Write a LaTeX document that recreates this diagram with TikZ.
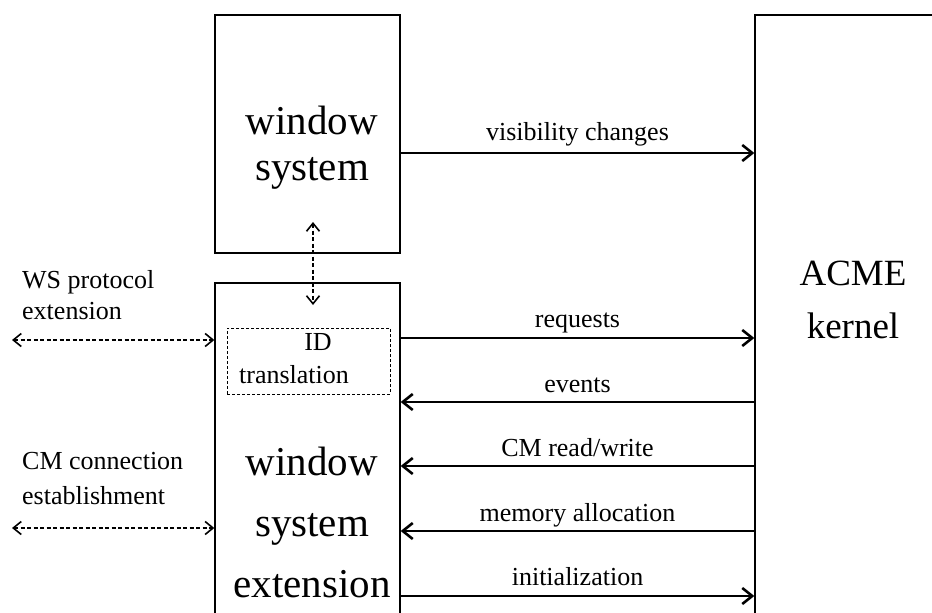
\documentclass[tikz,border=0pt]{standalone}
\usepackage{fontspec}
\setmainfont{Liberation Serif}
\usetikzlibrary{arrows.meta}
\usetikzlibrary{calc}

\tikzset{
 box/.style={draw, line width=1.3pt, inner sep=0},
 flow/.style={line width=2pt, >={Straight Barb[length=10pt,width=16pt,line width=2.6pt]}},
 ext/.style={line width=1.1pt, dash pattern=on 4pt off 2.5pt, >={Straight Barb[length=8pt,width=13pt,line width=1.6pt]}},
 lab/.style={font=\fontsize{26}{33}\selectfont, inner sep=0},
 big/.style={font=\fontsize{41}{46}\selectfont, align=center, inner sep=0},
}

\begin{document}
\begin{tikzpicture}[x=1pt, y=-1pt]
\clip (0,0) rectangle (932,613);
\useasboundingbox (0,0) rectangle (932,613);

% the three blocks
\node[box, minimum width=185pt, minimum height=238pt] (ws) at (307.5,134) {};
\node[box, minimum width=185pt, minimum height=357pt] (wse) at (307.5,461.5) {};
\node[box, minimum width=220pt, minimum height=630pt] (acme) at (865,330) {};
\node[box, dashed, line width=1pt, dash pattern=on 3pt off 2pt, minimum width=163pt, minimum height=66pt] (idbox) at (308.5,361) {};

\node[big] (wstxt) at (312,148) {window\\system};
\node[big, font=\fontsize{41}{61}\selectfont] (wsetxt) at (312,522) {window\\system\\extension};
\node[big, font=\fontsize{37}{53}\selectfont] (acmetxt) at (853,300) {ACME\\kernel};
\node[lab, anchor=base] (idtxt) at (318,350) {ID};
\node[lab, anchor=base] (trtxt) at (294,383) {translation};

% side labels
\node[lab, anchor=west, align=left, font=\fontsize{26}{31}\selectfont] (wsp) at (22,295) {WS protocol\\extension};
\node[lab, anchor=west, align=left, font=\fontsize{26}{35}\selectfont] (cmc) at (22,479) {CM connection\\establishment};

% dashed links
\coordinate (wsup) at (313,222);
\coordinate (wsedn) at (313,305);
\coordinate (wsl) at (12,340);
\coordinate (cml) at (12,528);
\draw[ext, <->] (wsup) -- (wsedn);
\draw[ext, <->] (wsl) -- (wsl -| wse.west);
\draw[ext, <->] (cml) -- (cml -| wse.west);

% calls between the window system side and the kernel
\draw[flow, ->] (ws.east |- 0,153) -- node[lab, anchor=base, yshift=13pt] (vis) {visibility changes} (acme.west |- 0,153);
\foreach \y/\txt [count=\i] in {338/requests, 596/initialization}
 \draw[flow, ->] (wse.east |- 0,\y) -- node[lab, anchor=base, yshift=11pt] (out\i) {\txt} (acme.west |- 0,\y);
\foreach \y/\txt [count=\i] in {402/events, 466/{CM read/write}, 531/memory allocation}
 \draw[flow, <-] (wse.east |- 0,\y) -- node[lab, anchor=base, yshift=10pt] (in\i) {\txt} (acme.west |- 0,\y);
\end{tikzpicture}
\end{document}
